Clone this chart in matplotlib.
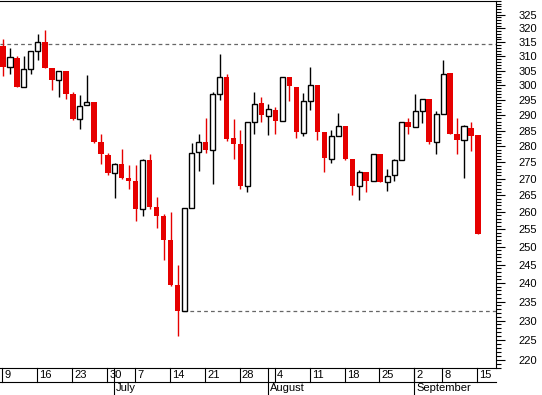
import numpy as np
import pandas as pd
import matplotlib
matplotlib.use('Agg')
import matplotlib.pyplot as plt
from matplotlib.ticker import FixedLocator, NullFormatter, FuncFormatter

plt.rcParams['font.family'] = ['Liberation Sans', 'DejaVu Sans']

#trading days 9 Jun - 15 Sep 2003 (no 4 Jul, no Labor Day)
days = pd.bdate_range('2003-06-09', '2003-09-15')
days = days.drop(pd.to_datetime(['2003-07-04', '2003-09-01']))

opens = [313.5, 306.2, 309.6, 299.4, 305.6, 312.0, 314.9, 305.8, 302.0, 304.8,
         297.0, 288.8, 293.3, 294.3, 281.3, 277.2, 271.6, 274.4, 270.1, 269.2,
         260.8, 275.7, 261.4, 258.8, 251.9, 239.4, 232.5, 261.1, 278.3, 281.3,
         278.8, 297.2, 302.7, 282.6, 280.8, 267.8, 288.0, 294.0, 289.9, 291.7,
         288.2, 302.7, 299.6, 284.4, 294.9, 300.1, 284.5, 276.2, 283.4, 286.5,
         276.0, 267.9, 271.9, 269.4, 277.5, 269.1, 271.0, 275.6, 288.0, 286.3,
         291.6, 295.3, 281.4, 290.6, 304.1, 284.0, 281.9, 286.0, 283.8]
highs = [316.0, 313.1, 310.3, 310.3, 312.0, 317.8, 319.2, 305.8, 304.8, 304.8,
         297.9, 296.6, 303.4, 294.3, 284.0, 278.0, 274.9, 279.3, 274.1, 274.1,
         276.2, 277.7, 264.4, 259.4, 260.0, 244.9, 261.1, 281.0, 284.0, 289.0,
         297.8, 311.0, 303.8, 288.7, 285.1, 288.0, 297.9, 296.0, 293.7, 292.7,
         303.0, 302.7, 299.6, 297.3, 306.2, 300.1, 284.5, 285.4, 290.7, 286.5,
         276.0, 272.6, 271.9, 277.7, 277.5, 272.9, 276.1, 288.0, 289.1, 297.0,
         295.5, 295.3, 291.3, 308.9, 304.1, 289.2, 286.8, 288.0, 283.8]
lows = [303.1, 304.0, 299.4, 299.4, 304.0, 308.6, 305.9, 298.3, 296.1, 295.4,
        288.4, 285.6, 293.3, 281.1, 274.6, 271.2, 264.2, 269.9, 266.9, 257.4,
        258.9, 260.9, 255.4, 246.3, 239.2, 225.9, 232.5, 261.1, 272.3, 278.0,
        268.4, 295.1, 281.7, 276.1, 266.9, 265.9, 284.0, 287.7, 283.7, 283.9,
        288.2, 294.8, 282.7, 283.2, 291.9, 282.1, 272.0, 274.9, 283.4, 275.7,
        265.0, 263.7, 265.9, 269.4, 269.0, 266.3, 269.3, 275.6, 283.9, 286.3,
        287.5, 280.8, 277.5, 290.6, 284.0, 277.5, 270.2, 278.6, 253.5]
closes = [306.2, 309.7, 299.4, 305.7, 312.0, 315.2, 305.9, 302.0, 304.8, 297.1,
          288.7, 293.2, 294.5, 281.4, 277.5, 271.7, 274.4, 270.2, 269.3, 260.9,
          275.9, 261.5, 258.9, 252.0, 239.4, 232.5, 261.1, 277.9, 281.5, 278.8,
          297.2, 303.0, 282.4, 280.8, 267.8, 288.0, 293.9, 290.1, 292.0, 288.2,
          303.0, 299.8, 284.6, 294.9, 300.3, 284.6, 276.4, 283.3, 286.7, 276.0,
          267.8, 272.1, 269.4, 277.7, 269.0, 270.8, 275.6, 288.0, 286.3, 291.6,
          295.5, 281.4, 290.6, 304.0, 284.0, 282.1, 286.5, 283.4, 253.5]

resistance = 314.5
support = 232.4

red = '#e60000'

o = np.array(opens)
h = np.array(highs)
l = np.array(lows)
c = np.array(closes)
x = np.arange(len(o))
up = c >= o

fig = plt.figure(figsize=(5.42, 3.95), dpi=100)
ax = fig.add_axes([0, 27/395, 496/542, 367.5/395])

#wicks
ax.vlines(x[up], l[up], h[up], color='black', lw=1, zorder=2)
ax.vlines(x[~up], l[~up], h[~up], color=red, lw=1, zorder=2)
#bodies
ax.bar(x[up], (c - o)[up], bottom=o[up], width=0.72, facecolor='white',
       edgecolor='black', lw=1, zorder=3)
ax.bar(x[~up], (o - c)[~up], bottom=c[~up], width=0.78, color=red, lw=0, zorder=3)

#dashed levels
ax.axhline(resistance, ls=(0, (3, 2.5)), color='#666666', lw=0.9, zorder=1)
ax.hlines(support, 25.77, 70.6, ls=(0, (3, 2.5)), color='#666666', lw=0.9, zorder=1)

ax.set_yscale('log')
ax.set_ylim(218.0, 330.2)
ax.set_xlim(-0.43, 70.58)

ax.yaxis.tick_right()
ax.yaxis.set_major_locator(FixedLocator(list(range(220, 326, 5))))
ax.yaxis.set_major_formatter(FuncFormatter(lambda v, p: f'{v:.0f}'))
ax.yaxis.set_minor_locator(FixedLocator(list(range(218, 331))))
ax.yaxis.set_minor_formatter(NullFormatter())
ax.tick_params(axis='y', which='major', length=6.5, width=0.8, pad=10, labelsize=8)
ax.tick_params(axis='y', which='minor', length=3.5, width=0.8)
ax.set_xticks([])

ax.spines['left'].set_visible(False)
for s in ['top', 'right', 'bottom']:
    ax.spines[s].set_linewidth(0.8)

#date rows under the plot
trans = ax.get_xaxis_transform()
row1 = -14/368
row2 = -27/368
ax.plot([0, 1], [row1, row1], transform=ax.transAxes, color='black', lw=0.8, clip_on=False)

weeks = [i for i in range(len(days)) if i == 0 or days[i].weekday() < days[i-1].weekday()]
for i in weeks:
    ax.plot([i - 0.1, i - 0.1], [0, row1], transform=trans, color='black', lw=0.8, clip_on=False)
    ax.text(i + 0.2, row1/2, str(days[i].day), transform=trans, ha='left', va='center', fontsize=8)

months = [i for i in range(1, len(days)) if days[i].month != days[i-1].month]
for i in months:
    ax.plot([i - 0.1, i - 0.1], [0, row2], transform=trans, color='black', lw=0.8, clip_on=False)
    ax.text(i + 0.2, (row1 + row2)/2, days[i].strftime('%B'), transform=trans,
            ha='left', va='center', fontsize=8)

fig.savefig('out.png', dpi=100)
